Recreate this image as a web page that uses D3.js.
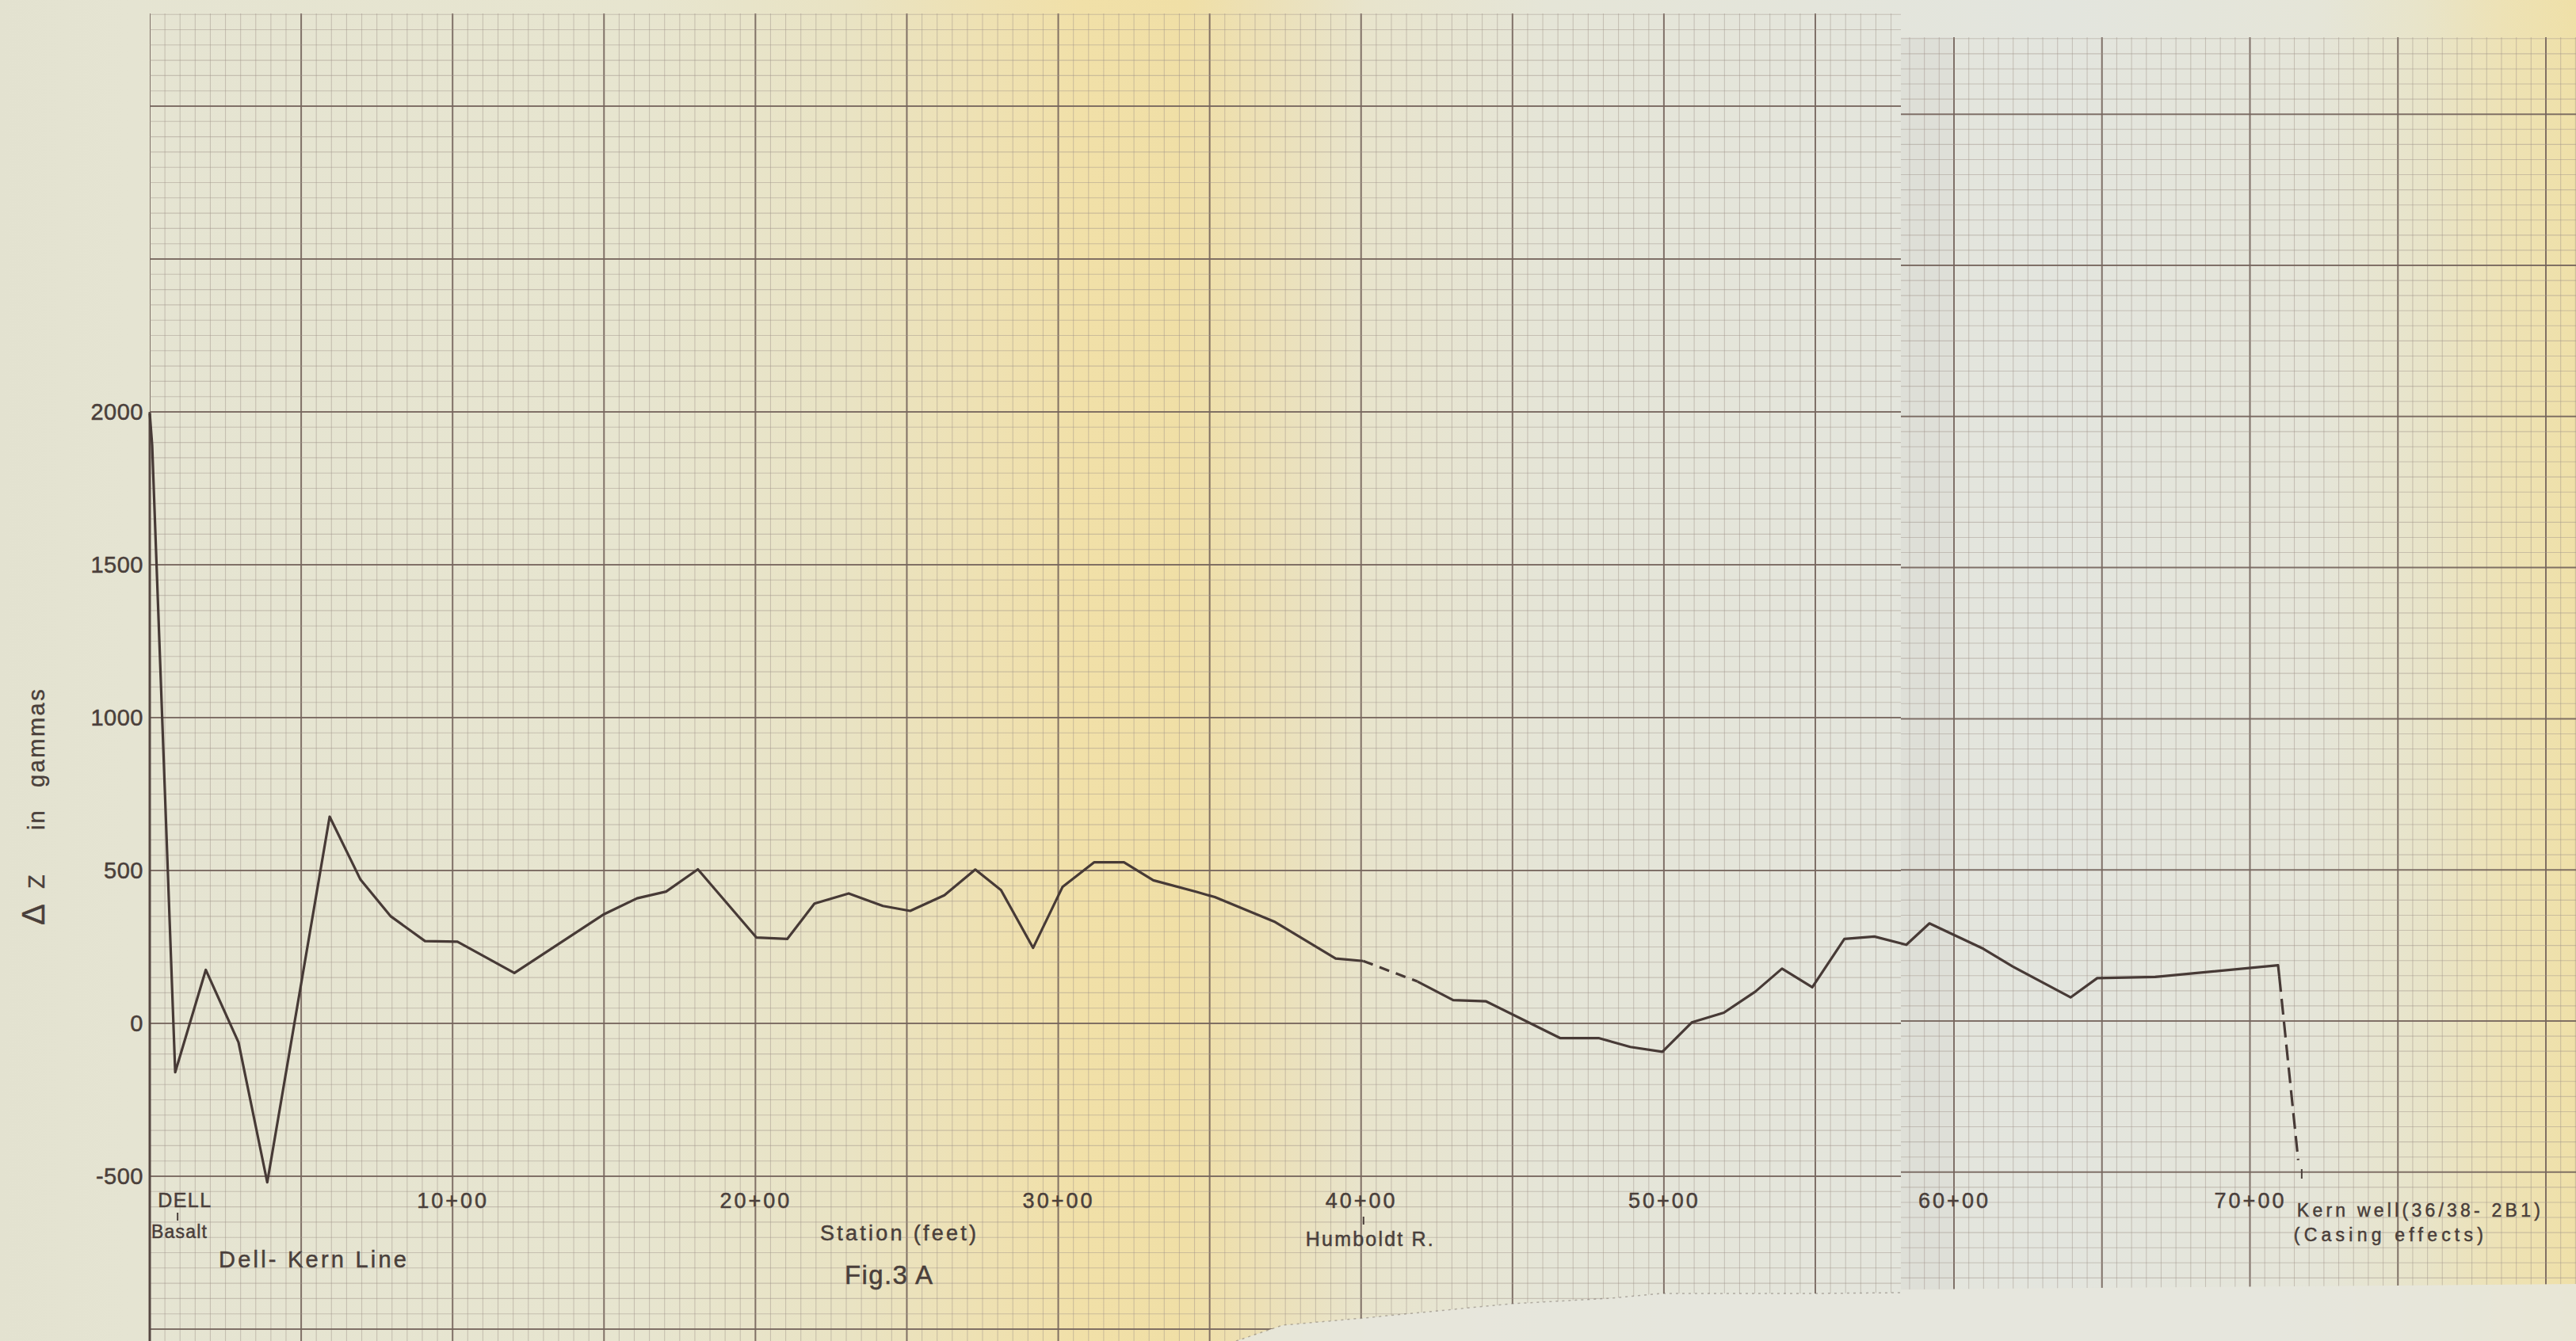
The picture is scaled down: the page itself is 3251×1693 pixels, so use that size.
<!DOCTYPE html>
<html>
<head>
<meta charset="utf-8">
<script src="https://cdn.jsdelivr.net/npm/d3@7"></script>
<style>
  html, body { margin: 0; padding: 0; background: #e4e3d3; }
  svg { display: block; }
</style>
</head>
<body>
<script>
// Dell–Kern line magnetometer traverse: vertical intensity ΔZ (gammas) against station (feet)
const stations = [0, 8, 84, 185, 293, 388, 594, 696, 796, 909, 1016, 1204, 1500, 1609, 1705, 1810,
  2003, 2105, 2195, 2308, 2421, 2511, 2624, 2726, 2811, 2917, 3014, 3119, 3217, 3314, 3457, 3517,
  3713, 3916, 4007, 4186, 4304, 4413, 4657, 4784, 4889, 4995, 5092, 5198, 5302, 5390, 5490, 5596,
  5695, 5839, 5917, 6099, 6198, 6394, 6484, 6680, 7095, 7099, 7163];
const deltaZ = [1995, 1890, -160, 175, -62, -520, 676, 470, 350, 269, 267, 165, 357, 409, 431, 504,
  281, 276, 392, 425, 384, 368, 419, 503, 436, 247, 446, 527, 527, 468, 430, 413,
  333, 212, 204, 137, 76, 72, -48, -48, -77, -93, 3, 35, 104, 179, 118, 276,
  284, 257, 327, 244, 186, 85, 148, 152, 190, 155, -447];
// stretches of the traverse drawn as dashed (uncertain) line
const dashedSpans = [[4007, 4186], [7099, 7163]];

const stationTicks = [1000, 2000, 3000, 4000, 5000, 6000, 7000];
const stationTickLabels = ["10+00", "20+00", "30+00", "40+00", "50+00", "60+00", "70+00"];
const deltaTicks = [2000, 1500, 1000, 500, 0, -500];
const deltaTickLabels = ["2000", "1500", "1000", "500", "0", "-500"];

// located features along the line
const siteStations = [92, 4008, 7175];

const W = 3251, H = 1693;
const INK = "#4a3f3b";
const FONT = "'Liberation Sans', Arial, sans-serif";

// two sheets of 10x10 graph paper taped side by side; each has its own ruling
const xLeft = d3.scaleLinear().domain([0, 5500]).range([189, 2291]);
const xRight = d3.scaleLinear().domain([6000, 8000]).range([2466, 3213]);
const yLeft = d3.scaleLinear().domain([0, 2000]).range([1292, 520]);
const yRight = d3.scaleLinear().domain([0, 2500]).range([1289, 335]);
const seam = 2399;
const x = d3.scaleLinear()
  .domain([0, xLeft.invert(seam), xRight.invert(seam), 8100])
  .range([xLeft(0), seam, seam, xRight(8100)]);
const y = yLeft;

const svg = d3.select("body").append("svg").attr("width", W).attr("height", H);
const defs = svg.append("defs");

// paper tone across the scan
const grad = defs.append("linearGradient").attr("id", "paper")
  .attr("x1", 0).attr("x2", 1).attr("y1", 0).attr("y2", 0);
[[0, "#e3e2d0"], [0.05, "#e5e4d2"], [0.25, "#e7e5cf"], [0.33, "#e9e3c3"], [0.38, "#eee1b3"],
 [0.42, "#f1e0a8"], [0.46, "#f0dfa6"], [0.49, "#ece0b6"], [0.53, "#e8e4cc"], [0.6, "#e5e5d7"],
 [0.7, "#e4e5db"], [0.8, "#e3e5de"], [0.9, "#e5e5d8"], [0.94, "#e8e4c9"], [0.97, "#ede2b6"],
 [1, "#efe0a8"]]
  .forEach(([o, c]) => grad.append("stop").attr("offset", o).attr("stop-color", c));

svg.append("rect").attr("width", W).attr("height", H).attr("fill", "url(#paper)");

const leftSheet = [[189, 17], [seam, 17], [seam, 1632], [2289, 1633], [2096, 1633], [2033, 1639],
  [1907, 1646], [1721, 1664], [1619, 1673], [1560, 1693], [189, 1693]];
const rightSheet = [[seam, 47], [W, 47], [W, 1621], [seam, 1628]];

defs.append("clipPath").attr("id", "clipLeft").append("polygon")
  .attr("points", leftSheet.map(p => p.join(",")).join(" "));
defs.append("clipPath").attr("id", "clipRight").append("polygon")
  .attr("points", rightSheet.map(p => p.join(",")).join(" "));

// torn-off strip below the left sheet shows the lighter backing
svg.append("polygon")
  .attr("points", [[1560, 1693], [1619, 1673], [1721, 1664], [1907, 1646], [2033, 1639], [2096, 1633],
    [2289, 1633], [seam, 1632], [seam, 1628], [W, 1621], [W, H], [1560, H]].map(p => p.join(",")).join(" "))
  .attr("fill", "#e6e6dd").attr("opacity", 0.85);

// shadow along the overlapping edge of the right sheet
svg.append("rect").attr("x", seam).attr("y", 47).attr("width", 68).attr("height", 1581)
  .attr("fill", "#5a5a4a").attr("opacity", 0.035);

function drawGrid(clipId, xs, ys, xs0, xs1, ys0, ys1) {
  const g = svg.append("g").attr("clip-path", `url(#${clipId})`);
  const style = sel => sel
    .attr("stroke", d => d.major ? "#75645c" : "#a0938a")
    .attr("stroke-width", d => d.major ? 2 : 1.1)
    .attr("opacity", d => d.major ? 0.9 : 0.45);
  g.selectAll("line.v").data(xs).join("line")
    .attr("x1", d => d.px).attr("x2", d => d.px).attr("y1", ys0).attr("y2", ys1).call(style);
  g.selectAll("line.h").data(ys).join("line")
    .attr("y1", d => d.px).attr("y2", d => d.px).attr("x1", xs0).attr("x2", xs1).call(style);
}

drawGrid("clipLeft",
  d3.range(0, 5800, 50).map(s => ({ px: xLeft(s), major: s % 500 === 0 })).filter(d => d.px <= seam),
  d3.range(-1050, 3350, 50).map(v => ({ px: yLeft(v), major: v % 500 === 0 })).filter(d => d.px >= 16),
  189, seam, 17, H);
drawGrid("clipRight",
  d3.range(5800, 8150, 50).map(s => ({ px: xRight(s), major: s % 500 === 0 })).filter(d => d.px > seam + 1 && d.px <= W),
  d3.range(-900, 3300, 50).map(v => ({ px: yRight(v), major: v % 500 === 0 })).filter(d => d.px >= 46),
  seam, W, 47, H);

// faint ragged edge of the torn paper
svg.append("path")
  .attr("d", d3.line()([[1560, 1693], [1619, 1673], [1721, 1664], [1907, 1646], [2033, 1639],
    [2096, 1633], [2289, 1633], [seam, 1632]]))
  .attr("fill", "none").attr("stroke", "#6d625a").attr("stroke-width", 1.5)
  .attr("stroke-dasharray", "3,5").attr("opacity", 0.45);

// ruled ΔZ axis
svg.append("line").attr("x1", x(0)).attr("x2", x(0)).attr("y1", y(2000)).attr("y2", H)
  .attr("stroke", "#564742").attr("stroke-width", 3);

const yAxis = d3.axisLeft(y).tickValues(deltaTicks)
  .tickFormat((d, i) => deltaTickLabels[i]).tickSize(0).tickPadding(8);
svg.append("g").attr("transform", `translate(${x(0)},0)`).call(yAxis)
  .call(g => g.select(".domain").remove())
  .call(g => g.selectAll("text").attr("fill", INK).attr("font-size", 29)
    .attr("font-family", FONT).attr("letter-spacing", 0.5)
    .attr("stroke", INK).attr("stroke-width", 0.5));

const xAxis = d3.axisBottom(x).tickValues(stationTicks)
  .tickFormat((d, i) => stationTickLabels[i]).tickSize(0).tickPadding(0);
svg.append("g").attr("transform", `translate(0,${y(-500) + 21})`).call(xAxis)
  .call(g => g.select(".domain").remove())
  .call(g => g.selectAll("text").attr("fill", INK).attr("font-size", 27)
    .attr("font-family", FONT).attr("letter-spacing", 3)
    .attr("stroke", INK).attr("stroke-width", 0.5));

// profile line, split into solid and dashed runs
const pts = stations.map((s, i) => ({ s, v: deltaZ[i] }));
const isDashed = (a, b) => dashedSpans.some(([s0, s1]) => a.s >= s0 && b.s <= s1);
const runs = [];
for (let i = 0; i < pts.length - 1; i++) {
  const dashed = isDashed(pts[i], pts[i + 1]);
  const last = runs[runs.length - 1];
  if (last && last.dashed === dashed) last.points.push(pts[i + 1]);
  else runs.push({ dashed, points: [pts[i], pts[i + 1]] });
}
const line = d3.line().x(d => x(d.s)).y(d => y(d.v));
svg.append("g").selectAll("path").data(runs).join("path")
  .attr("d", d => line(d.points))
  .attr("fill", "none").attr("stroke", "#473a36").attr("stroke-width", 3.2)
  .attr("stroke-linejoin", "round").attr("stroke-linecap", "butt")
  .attr("stroke-dasharray", d => d.dashed ? (d.points[0].s > 7000 ? "20,9" : "13,9") : null);

// feature ticks
const tickY = [[1531, 1541], [1536, 1546], [1476, 1488]];
svg.append("g").selectAll("line").data(siteStations).join("line")
  .attr("x1", d => x(d)).attr("x2", d => x(d))
  .attr("y1", (d, i) => tickY[i][0]).attr("y2", (d, i) => tickY[i][1])
  .attr("stroke", INK).attr("stroke-width", 2);

function label(txt, px, py, size, len, anchor) {
  const t = svg.append("text").attr("x", px).attr("y", py).text(txt)
    .attr("fill", INK).attr("font-family", FONT).attr("font-size", size)
    .attr("stroke", INK).attr("stroke-width", 0.5)
    .attr("text-anchor", anchor || "start");
  if (len) t.attr("textLength", len).attr("lengthAdjust", "spacing");
  return t;
}

label("DELL", x(siteStations[0]) - 25, 1524, 25, 67);
label("Basalt", 191, 1563, 23, 70);
label("Dell- Kern Line", 276, 1600, 29, 237);
label("Station (feet)", 1035, 1566, 27, 197);
label("Fig.3 A", 1066, 1621, 33, 111);
label("Humboldt R.", x(siteStations[1]) - 73, 1573, 25, 161);
label("Kern well(36/38- 2B1)", x(siteStations[2]) - 6, 1536, 23, 307);
label("(Casing effects)", x(siteStations[2]) - 10, 1567, 23, 239);

// ΔZ axis title, reading upward
const title = svg.append("text").attr("transform", "translate(56,1168) rotate(-90)")
  .attr("fill", INK).attr("font-family", FONT).attr("font-size", 29)
  .attr("stroke", INK).attr("stroke-width", 0.4);
title.append("tspan").attr("x", 0).attr("font-size", 40).text("Δ");
title.append("tspan").attr("x", 46).text("Z");
title.append("tspan").attr("x", 120).attr("letter-spacing", 2).text("in");
title.append("tspan").attr("x", 174).attr("letter-spacing", 2.5).text("gammas");
</script>
</body>
</html>
